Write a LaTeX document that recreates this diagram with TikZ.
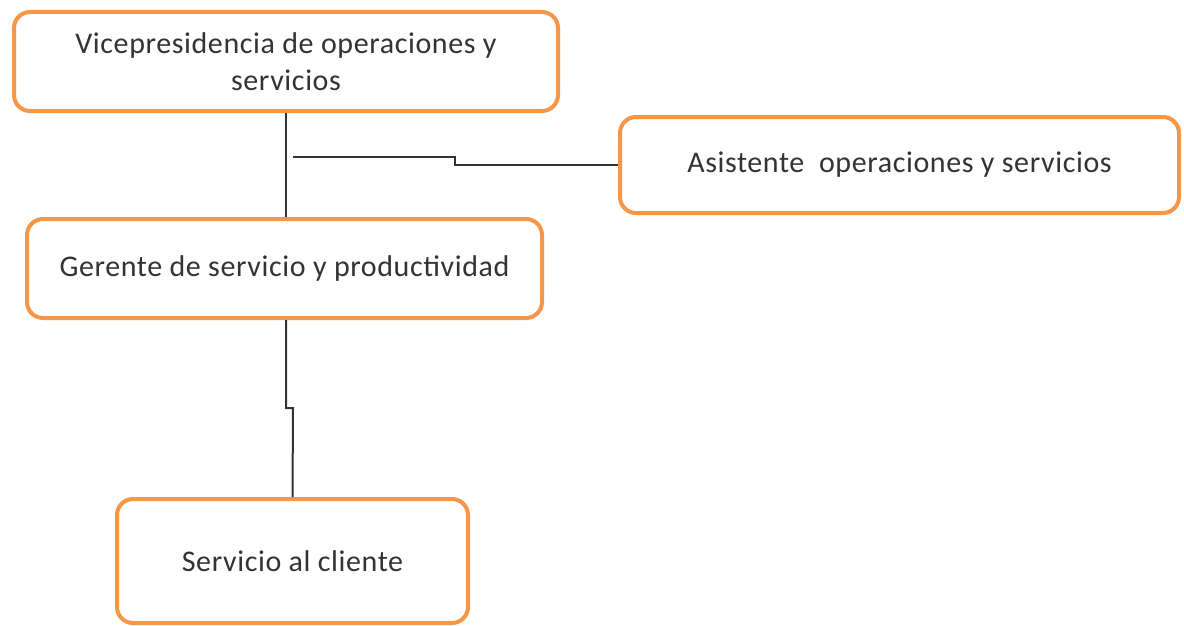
\documentclass[tikz,border=0pt]{standalone}
\usepackage{fontspec}
\setmainfont{Carlito}[LetterSpace=2]
\definecolor{boxorange}{HTML}{F79646}
\definecolor{txtgray}{HTML}{333333}
\begin{document}
\begin{tikzpicture}[x=1pt,y=-1pt,
  orgbox/.style={draw=boxorange,line width=4pt,rounded corners=16pt,fill=white,
    inner sep=0pt,align=center,text=txtgray,font=\fontsize{30}{37}\selectfont},
  conn/.style={draw=black!80,line width=2pt}]
\useasboundingbox (0,0) rectangle (1184,626);
\node[orgbox,minimum width=544pt,minimum height=99pt] (vice) at (286,61.5)
  {Vicepresidencia de operaciones y\\servicios};
\node[orgbox,minimum width=559pt,minimum height=96pt] (asis) at (899.5,165)
  {Asistente\ \ operaciones y servicios};
\node[orgbox,minimum width=515pt,minimum height=99pt] (ger) at (284.5,268.5)
  {Gerente de servicio y productividad};
\node[orgbox,minimum width=351pt,minimum height=124pt] (serv) at (292.5,561)
  {Servicio al cliente};
\coordinate (hs) at (293,157);
\draw[conn] (vice.south) -- (vice.south |- ger.north);
\draw[conn] (hs) -- (455,157) -- (455,165) -- (asis.west);
\draw[conn] (ger.south -| vice.south) -- (286,408) -- (293,408) -- (serv.north);
\end{tikzpicture}
\end{document}
